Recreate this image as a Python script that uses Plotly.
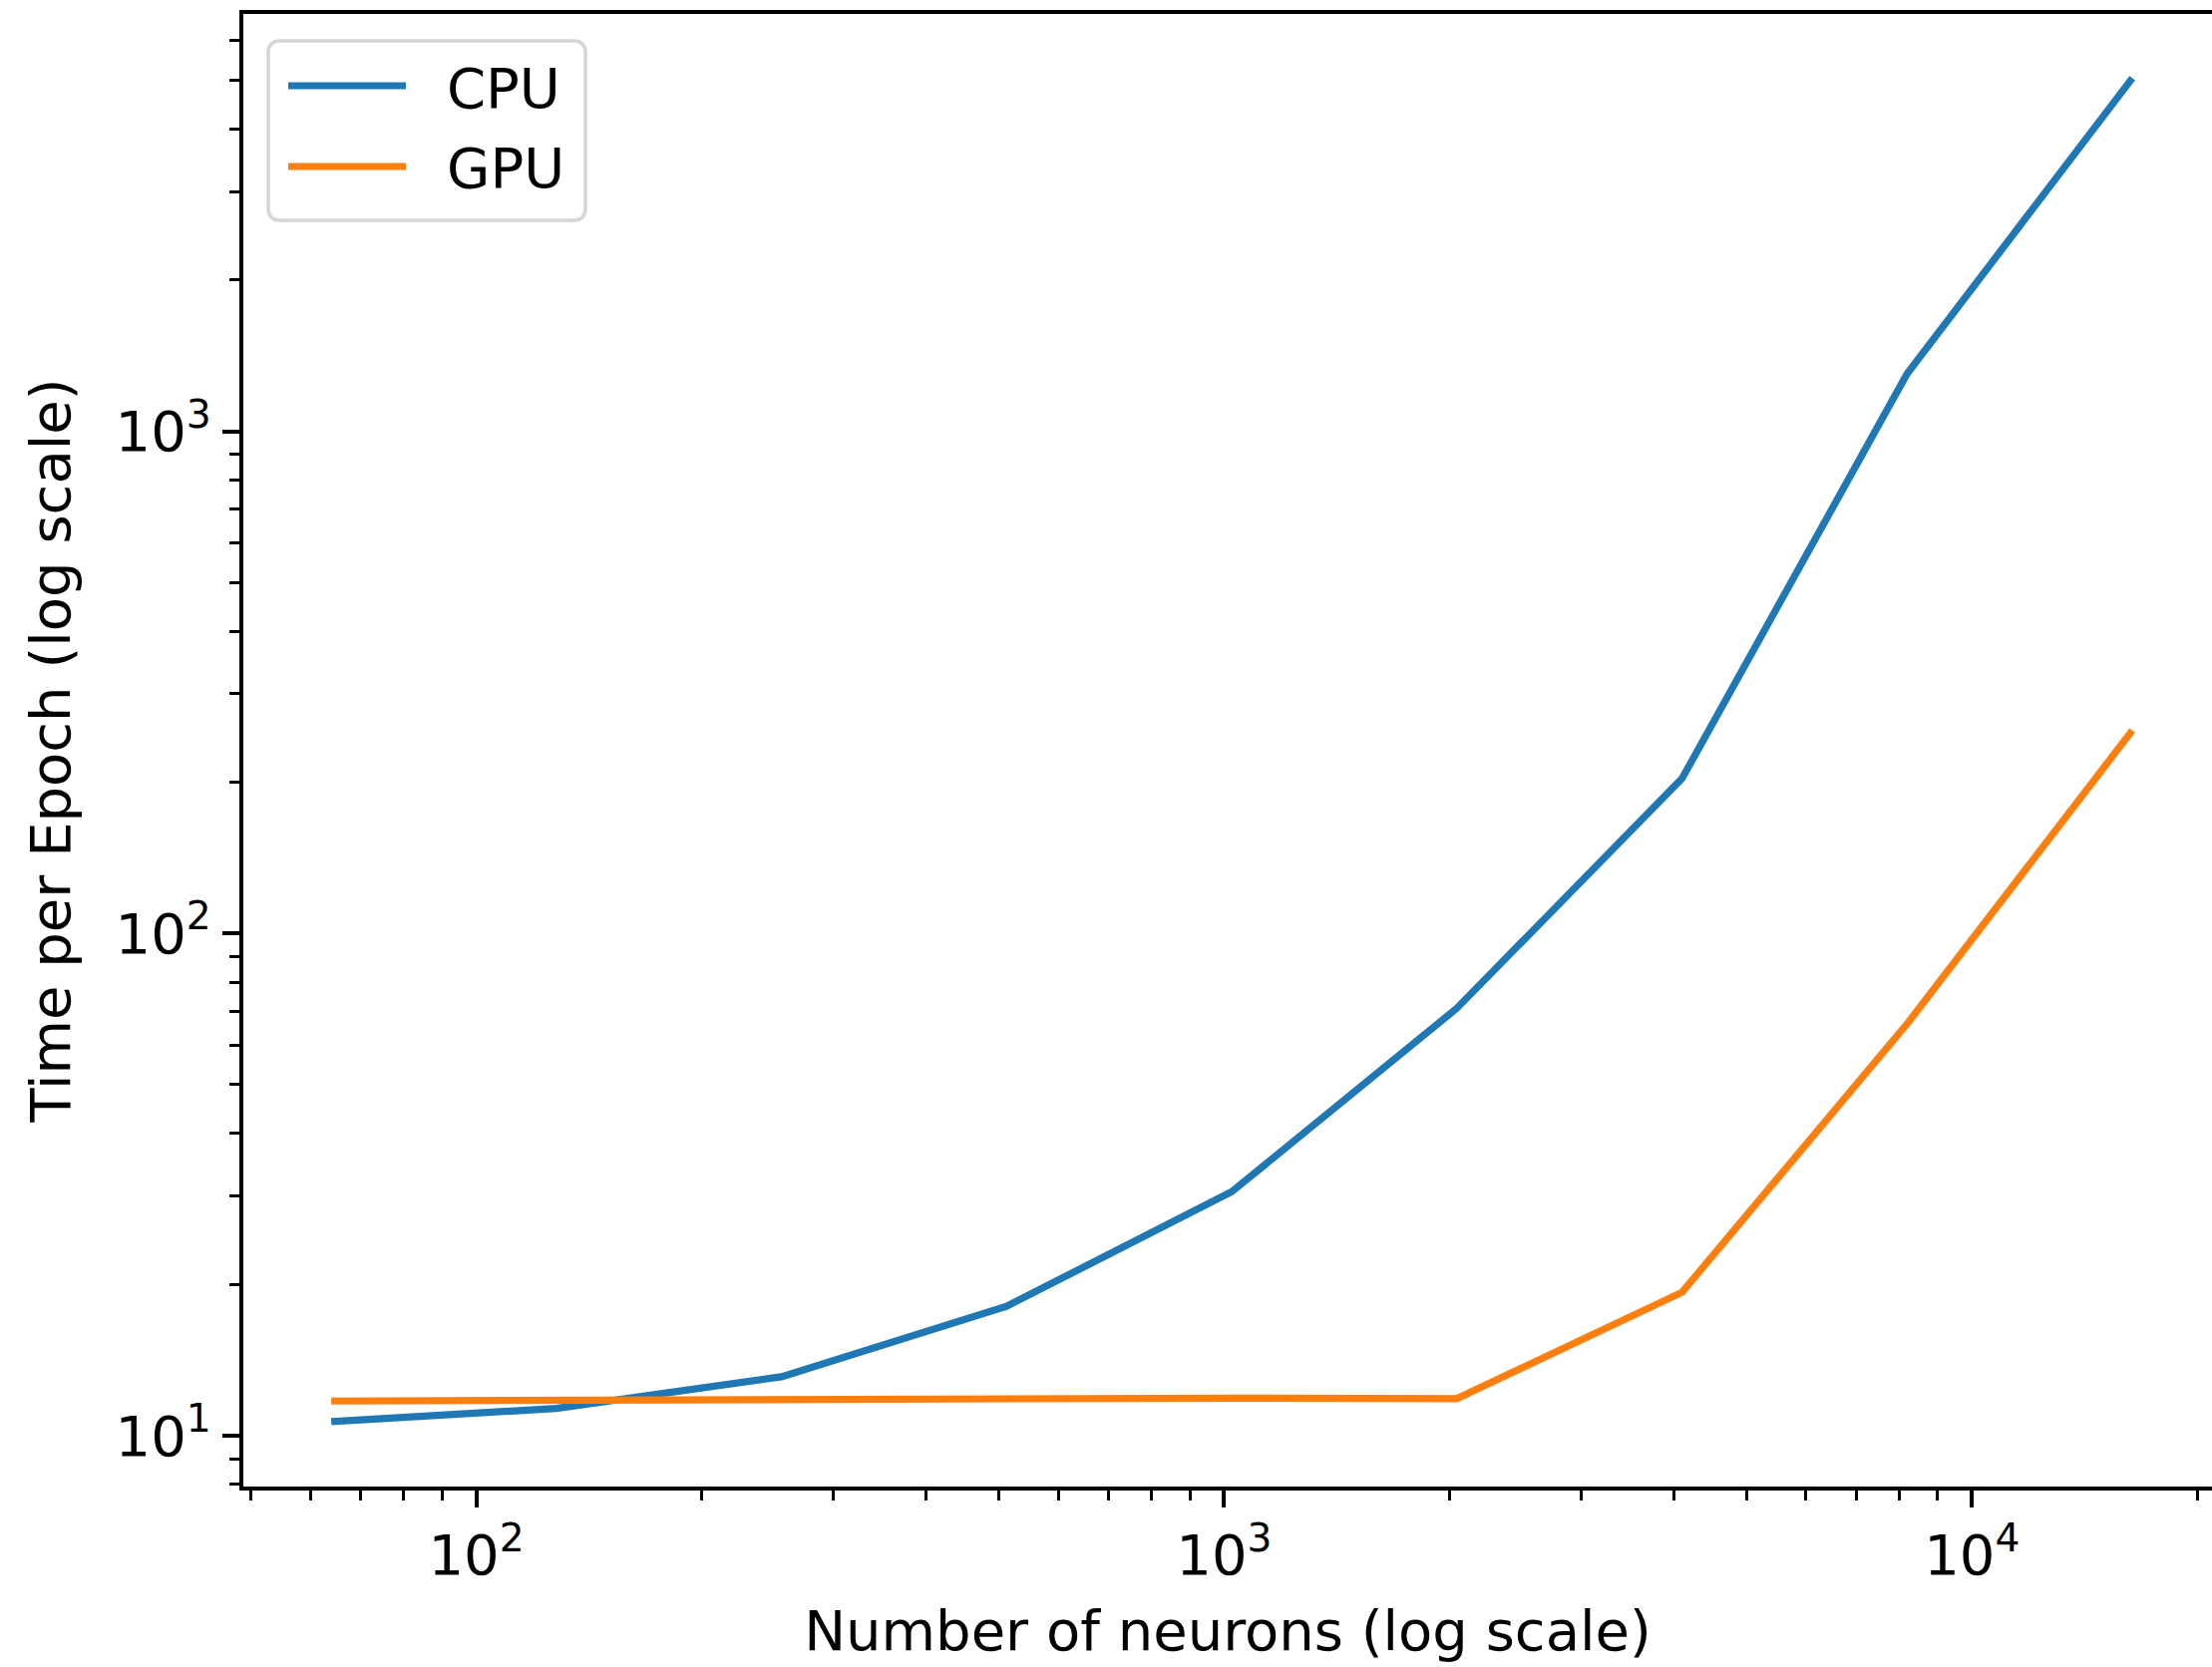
import plotly.graph_objects as go

# Layer widths tested (number of neurons) and measured time per epoch
neurons = [64, 128, 256, 512, 1024, 2048, 4096, 8192, 16384]
cpu_time = [10.67, 11.33, 13.1, 18.1, 30.6, 71.0, 203.5, 1302, 5050]
gpu_time = [11.72, 11.78, 11.84, 11.85, 11.88, 11.85, 19.3, 66.1, 253.7]

series_names = ["CPU", "GPU"]
series_colors = ["#1f77b4", "#ff7f0e"]

x_tick_vals = [100, 1000, 10000]
x_tick_text = ["10<sup>2</sup>", "10<sup>3</sup>", "10<sup>4</sup>"]
y_tick_vals = [10, 100, 1000]
y_tick_text = ["10<sup>1</sup>", "10<sup>2</sup>", "10<sup>3</sup>"]

x_title = "Number of neurons (log scale)"
y_title = "Time per Epoch (log scale)"

# minor ticks at 2..9 times each power of ten
x_minor = [m * 10 ** e for e in range(1, 5) for m in range(2, 10)]
y_minor = [m * 10 ** e for e in range(0, 4) for m in range(2, 10)]

W, H = 2218, 1672
ML, MR, MT, MB = 244, 0, 14, 181
PW, PH = W - ML - MR, H - MT - MB
FONT = "DejaVu Sans"
FS = 56


def px_x(v):
    return (v - ML) / PW


def px_y(v):
    return 1 - (v - MT) / PH


fig = go.Figure()
for name, ys, col in zip(series_names, [cpu_time, gpu_time], series_colors):
    fig.add_trace(go.Scatter(
        x=neurons, y=ys, mode="lines", name=name,
        line=dict(color=col, width=7.2),
        showlegend=False,
    ))

axis_common = dict(
    type="log",
    showgrid=False,
    zeroline=False,
    showline=True,
    linecolor="black",
    linewidth=4,
    ticks="outside",
    ticklen=17,
    tickwidth=4,
    tickcolor="black",
    tickfont=dict(family=FONT, size=FS, color="black"),
    title_font=dict(family=FONT, size=FS, color="black"),
)

fig.update_xaxes(
    **axis_common,
    range=[1.6886, 4.321],
    tickmode="array",
    tickvals=x_tick_vals,
    ticktext=x_tick_text,
    minor=dict(tickmode="array", tickvals=x_minor, ticks="outside",
               ticklen=10, tickwidth=3, tickcolor="black"),
    mirror=True,
    title_text=x_title,
    title_standoff=26,
)
fig.update_yaxes(
    **axis_common,
    range=[0.8987, 3.831],
    tickmode="array",
    tickvals=y_tick_vals,
    ticktext=y_tick_text,
    minor=dict(tickmode="array", tickvals=y_minor, ticks="outside",
               ticklen=10, tickwidth=3, tickcolor="black"),
    title_text=y_title,
    title_standoff=28,
)

# legend box with rounded corners
bx0, bx1, by0, by1, r = 269, 587, 41, 221, 12
path = (
    f"M {px_x(bx0 + r)} {px_y(by0)} L {px_x(bx1 - r)} {px_y(by0)} "
    f"Q {px_x(bx1)} {px_y(by0)} {px_x(bx1)} {px_y(by0 + r)} "
    f"L {px_x(bx1)} {px_y(by1 - r)} "
    f"Q {px_x(bx1)} {px_y(by1)} {px_x(bx1 - r)} {px_y(by1)} "
    f"L {px_x(bx0 + r)} {px_y(by1)} "
    f"Q {px_x(bx0)} {px_y(by1)} {px_x(bx0)} {px_y(by1 - r)} "
    f"L {px_x(bx0)} {px_y(by0 + r)} "
    f"Q {px_x(bx0)} {px_y(by0)} {px_x(bx0 + r)} {px_y(by0)} Z"
)
shapes = [dict(type="path", xref="paper", yref="paper", path=path,
               line=dict(color="#d6d6d6", width=3.5), fillcolor="white")]
annotations = []
for i, (name, col) in enumerate(zip(series_names, series_colors)):
    yc = 86 + i * 81
    shapes.append(dict(type="line", xref="paper", yref="paper",
                       x0=px_x(289), x1=px_x(407), y0=px_y(yc), y1=px_y(yc),
                       line=dict(color=col, width=7.2)))
    annotations.append(dict(xref="paper", yref="paper", x=px_x(446), y=px_y(yc + 2),
                            text=name, showarrow=False, xanchor="left", yanchor="middle",
                            font=dict(family=FONT, size=FS, color="black")))

fig.update_layout(
    width=W, height=H,
    margin=dict(l=ML, r=MR, t=MT, b=MB, pad=0),
    paper_bgcolor="white",
    plot_bgcolor="white",
    shapes=shapes,
    annotations=annotations,
    font=dict(family=FONT, size=FS, color="black"),
)

fig.write_html("out.html")
